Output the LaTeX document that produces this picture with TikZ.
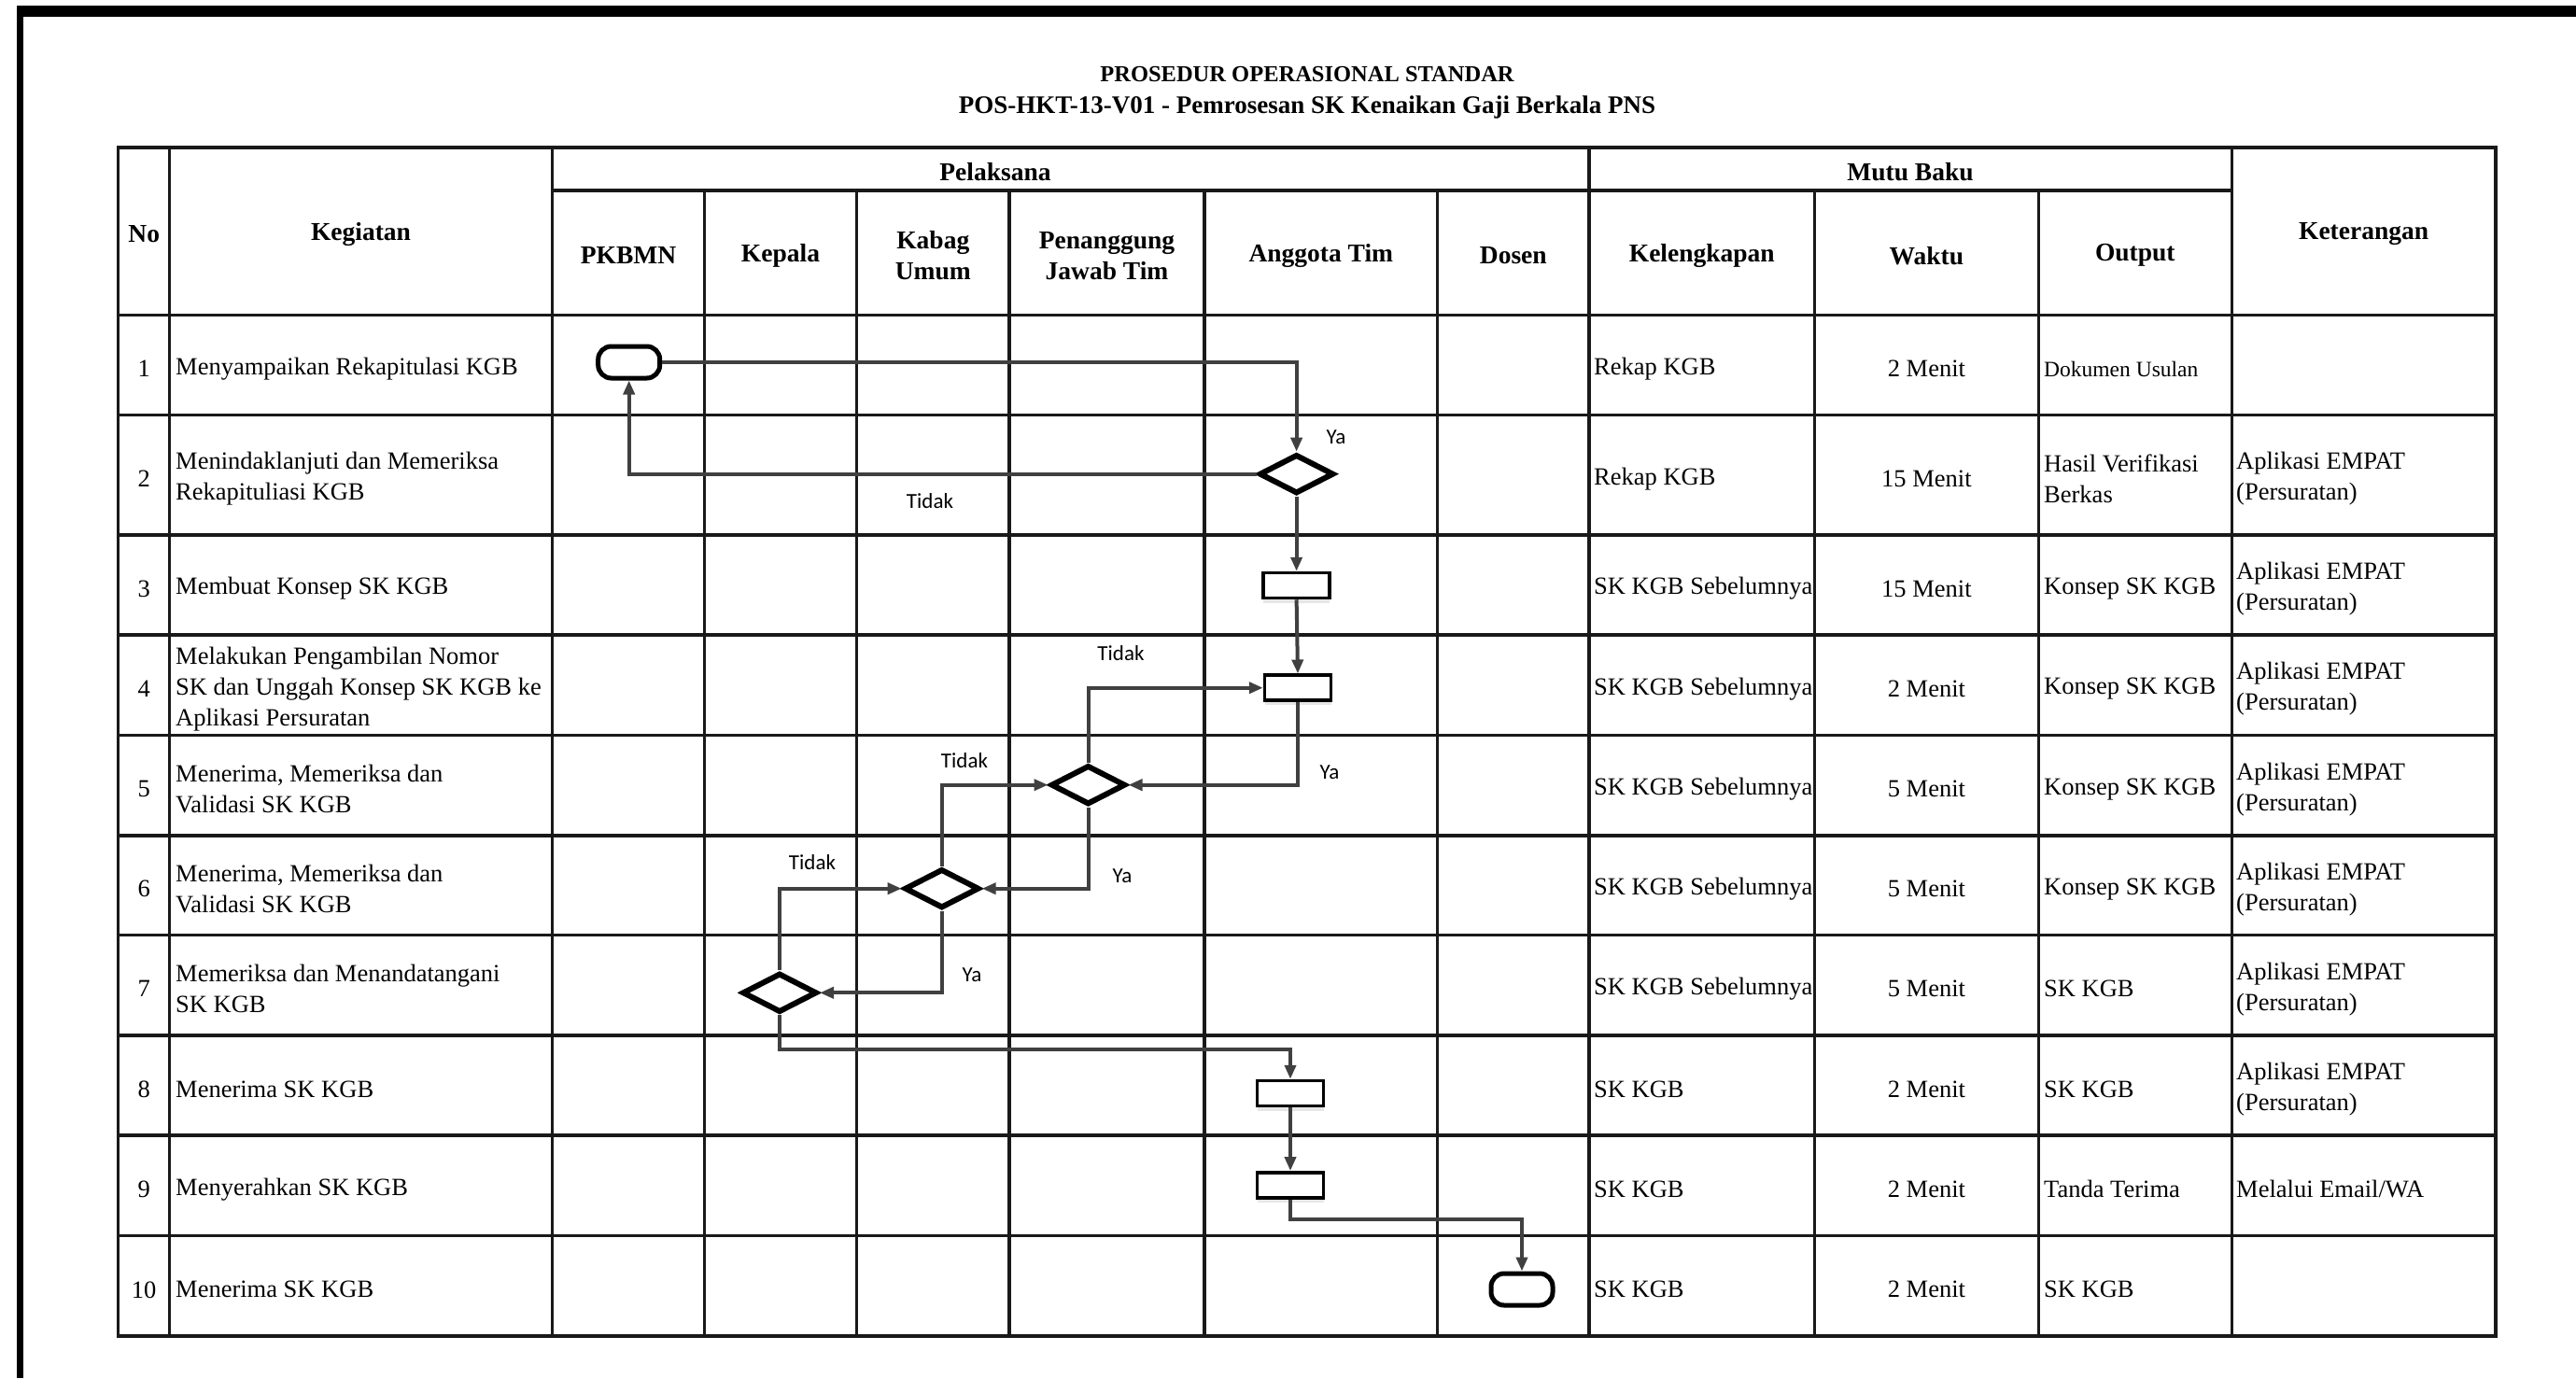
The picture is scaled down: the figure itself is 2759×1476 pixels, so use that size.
\documentclass[tikz,border=0pt]{standalone}
\usepackage{fontspec}
\setmainfont{Liberation Serif}
\newfontfamily\lblfont{Carlito}
\usetikzlibrary{shapes.geometric, arrows.meta, shadows}
\tikzset{
    cell/.style={anchor=west, inner sep=0pt, align=left, yshift=-4pt, font=\fontsize{26.5}{33}\selectfont},
    cellc/.style={anchor=center, inner sep=0pt, align=center, yshift=-4pt, font=\fontsize{26.5}{33}\selectfont},
    head/.style={anchor=center, inner sep=0pt, align=center, yshift=-3pt, font=\fontsize{27.5}{33}\selectfont\bfseries},
    tabline/.style={line width=3.2pt, black!90, line cap=rect},
    terminal/.style={rectangle, rounded corners=14pt, draw=black, fill=white, line width=5pt, minimum width=66pt, minimum height=34pt, inner sep=0pt},
    process/.style={rectangle, draw=black, fill=white, line width=3.5pt, minimum width=71pt, minimum height=27pt, inner sep=0pt, drop shadow={shadow xshift=0pt, shadow yshift=-5pt, opacity=0.2}},
    decision/.style={diamond, draw=black, fill=white, line width=6pt, minimum width=80pt, minimum height=42pt, inner sep=0pt},
    flow/.style={line width=4pt, draw=black!75, -{Triangle[length=15pt, width=12pt]}},
    lbl/.style={font=\lblfont\fontsize{23}{26}\selectfont, inner sep=0pt}
}

\begin{document}
\begin{tikzpicture}[x=1pt, y=-1pt]
        \useasboundingbox (0,0) rectangle (2759,1476);
        % Frame
        \fill[black] (18,6) rectangle (2759,18);
        \fill[black] (18,6) rectangle (25,1476);

        % Title
        \node (judul1) [font=\fontsize{24.5}{28}\selectfont\bfseries] at (1400,80) {PROSEDUR OPERASIONAL STANDAR};
        \node (judul2) [font=\fontsize{27}{30}\selectfont\bfseries] at (1400,115) {POS-HKT-13-V01 - Pemrosesan SK Kenaikan Gaji Berkala PNS};

        % Table rules
        \draw[tabline] (126.8,158) -- (2673,158);
        \draw[tabline] (591.5,204) -- (2390.3,204);
        \draw[tabline] (126.8,337.5) -- (2673,337.5);
        \draw[tabline] (126.8,444.5) -- (2673,444.5);
        \draw[tabline] (126.8,573) -- (2673,573);
        \draw[tabline] (126.8,680) -- (2673,680);
        \draw[tabline] (126.8,787.5) -- (2673,787.5);
        \draw[tabline] (126.8,895) -- (2673,895);
        \draw[tabline] (126.8,1001.5) -- (2673,1001.5);
        \draw[tabline] (126.8,1109) -- (2673,1109);
        \draw[tabline] (126.8,1216) -- (2673,1216);
        \draw[tabline] (126.8,1323.5) -- (2673,1323.5);
        \draw[tabline] (126.8,1431) -- (2673,1431);
        \draw[tabline] (126.8,158) -- (126.8,1431);
        \draw[tabline] (181.5,158) -- (181.5,1431);
        \draw[tabline] (591.5,158) -- (591.5,1431);
        \draw[tabline] (754.5,204) -- (754.5,1431);
        \draw[tabline] (917.5,204) -- (917.5,1431);
        \draw[tabline] (1081,204) -- (1081,1431);
        \draw[tabline] (1290,204) -- (1290,1431);
        \draw[tabline] (1539.5,204) -- (1539.5,1431);
        \draw[tabline] (1702,158) -- (1702,1431);
        \draw[tabline] (1943.5,204) -- (1943.5,1431);
        \draw[tabline] (2183.3,204) -- (2183.3,1431);
        \draw[tabline] (2390.3,158) -- (2390.3,1431);
        \draw[tabline] (2673,158) -- (2673,1431);

        % Header
        \node (hno) [head] at (154.2,247.8) {No};
        \node (hkeg) [head] at (386.5,247.8) {Kegiatan};
        \node (hpel) [head] at (1066,181) {Pelaksana};
        \node (hmutu) [head] at (2046,181) {Mutu Baku};
        \node (hket) [head] at (2531.6,247.8) {Keterangan};
        \node (hpkbmn) [head] at (673,270.8) {PKBMN};
        \node (hkepala) [head] at (836,270.8) {Kepala};
        \node (hkabag) [head] at (999.3,270.8) {Kabag\\Umum};
        \node (hpj) [head] at (1185.5,270.8) {Penanggung\\Jawab Tim};
        \node (hagt) [head] at (1414.8,270.8) {Anggota Tim};
        \node (hdosen) [head] at (1620.8,270.8) {Dosen};
        \node (hkel) [head] at (1822.8,270.8) {Kelengkapan};
        \node (hwkt) [head] at (2063.4,270.8) {Waktu};
        \node (hout) [head] at (2286.8,270.8) {Output};

        % Row 1
        \node (no1) [cellc] at (154.2,391) {1};
        \node (keg1) [cell] at (188,391) {Menyampaikan Rekapitulasi KGB};
        \node (kel1) [cell] at (1707,391) {Rekap KGB};
        \node (wkt1) [cellc] at (2063.4,391) {2 Menit};
        \node (out1) [cell, font=\fontsize{23.5}{28}\selectfont] at (2189,391) {Dokumen Usulan};

        % Row 2
        \node (no2) [cellc] at (154.2,508.8) {2};
        \node (keg2) [cell] at (188,508.8) {Menindaklanjuti dan Memeriksa\\Rekapituliasi KGB};
        \node (kel2) [cell] at (1707,508.8) {Rekap KGB};
        \node (wkt2) [cellc] at (2063.4,508.8) {15 Menit};
        \node (out2) [cell] at (2189,508.8) {Hasil Verifikasi\\Berkas};
        \node (ket2) [cell] at (2395,508.8) {Aplikasi EMPAT\\(Persuratan)};

        % Row 3
        \node (no3) [cellc] at (154.2,626.5) {3};
        \node (keg3) [cell] at (188,626.5) {Membuat Konsep SK KGB};
        \node (kel3) [cell] at (1707,626.5) {SK KGB Sebelumnya};
        \node (wkt3) [cellc] at (2063.4,626.5) {15 Menit};
        \node (out3) [cell] at (2189,626.5) {Konsep SK KGB};
        \node (ket3) [cell] at (2395,626.5) {Aplikasi EMPAT\\(Persuratan)};

        % Row 4
        \node (no4) [cellc] at (154.2,733.8) {4};
        \node (keg4) [cell] at (188,733.8) {Melakukan Pengambilan Nomor\\SK dan Unggah Konsep SK KGB ke\\Aplikasi Persuratan};
        \node (kel4) [cell] at (1707,733.8) {SK KGB Sebelumnya};
        \node (wkt4) [cellc] at (2063.4,733.8) {2 Menit};
        \node (out4) [cell] at (2189,733.8) {Konsep SK KGB};
        \node (ket4) [cell] at (2395,733.8) {Aplikasi EMPAT\\(Persuratan)};

        % Row 5
        \node (no5) [cellc] at (154.2,841.3) {5};
        \node (keg5) [cell] at (188,841.3) {Menerima, Memeriksa dan\\Validasi SK KGB};
        \node (kel5) [cell] at (1707,841.3) {SK KGB Sebelumnya};
        \node (wkt5) [cellc] at (2063.4,841.3) {5 Menit};
        \node (out5) [cell] at (2189,841.3) {Konsep SK KGB};
        \node (ket5) [cell] at (2395,841.3) {Aplikasi EMPAT\\(Persuratan)};

        % Row 6
        \node (no6) [cellc] at (154.2,948.3) {6};
        \node (keg6) [cell] at (188,948.3) {Menerima, Memeriksa dan\\Validasi SK KGB};
        \node (kel6) [cell] at (1707,948.3) {SK KGB Sebelumnya};
        \node (wkt6) [cellc] at (2063.4,948.3) {5 Menit};
        \node (out6) [cell] at (2189,948.3) {Konsep SK KGB};
        \node (ket6) [cell] at (2395,948.3) {Aplikasi EMPAT\\(Persuratan)};

        % Row 7
        \node (no7) [cellc] at (154.2,1055.3) {7};
        \node (keg7) [cell] at (188,1055.3) {Memeriksa dan Menandatangani\\SK KGB};
        \node (kel7) [cell] at (1707,1055.3) {SK KGB Sebelumnya};
        \node (wkt7) [cellc] at (2063.4,1055.3) {5 Menit};
        \node (out7) [cell] at (2189,1055.3) {SK KGB};
        \node (ket7) [cell] at (2395,1055.3) {Aplikasi EMPAT\\(Persuratan)};

        % Row 8
        \node (no8) [cellc] at (154.2,1162.5) {8};
        \node (keg8) [cell] at (188,1162.5) {Menerima SK KGB};
        \node (kel8) [cell] at (1707,1162.5) {SK KGB};
        \node (wkt8) [cellc] at (2063.4,1162.5) {2 Menit};
        \node (out8) [cell] at (2189,1162.5) {SK KGB};
        \node (ket8) [cell] at (2395,1162.5) {Aplikasi EMPAT\\(Persuratan)};

        % Row 9
        \node (no9) [cellc] at (154.2,1269.8) {9};
        \node (keg9) [cell] at (188,1269.8) {Menyerahkan SK KGB};
        \node (kel9) [cell] at (1707,1269.8) {SK KGB};
        \node (wkt9) [cellc] at (2063.4,1269.8) {2 Menit};
        \node (out9) [cell] at (2189,1269.8) {Tanda Terima};
        \node (ket9) [cell] at (2395,1269.8) {Melalui Email/WA};

        % Row 10
        \node (no10) [cellc] at (154.2,1377.3) {10};
        \node (keg10) [cell] at (188,1377.3) {Menerima SK KGB};
        \node (kel10) [cell] at (1707,1377.3) {SK KGB};
        \node (wkt10) [cellc] at (2063.4,1377.3) {2 Menit};
        \node (out10) [cell] at (2189,1377.3) {SK KGB};

        % Flow shapes
        \node (t1) [terminal] at (673.7,388) {};
        \node (d2) [decision] at (1388.6,507.7) {};
        \node (p3) [process] at (1388.6,627) {};
        \node (p4) [process] at (1390,736.7) {};
        \node (d5) [decision] at (1165.5,840.7) {};
        \node (d6) [decision] at (1008.7,951.7) {};
        \node (d7) [decision] at (835,1063.3) {};
        \node (p8) [process] at (1382,1171) {};
        \node (p9) [process] at (1382,1269.3) {};
        \node (t10) [terminal] at (1630,1381) {};

        % Connections
        \draw[flow] (t1.east) -| (d2.north);
        \draw[flow] (d2.west) -| (t1.south);
        \draw[flow] (d2.south) -- (p3.north);
        \draw[flow] (p3.south) -- (p4.north);
        \draw[flow] (p4.south) |- (d5.east);
        \draw[flow] (d5.north) |- (p4.west);
        \draw[flow] (d5.south) |- (d6.east);
        \draw[flow] (d6.north) |- (d5.west);
        \draw[flow] (d6.south) |- (d7.east);
        \draw[flow] (d7.north) |- (d6.west);
        \draw[flow] (d7.south) -- ++(0,36.5) -| (p8.north);
        \draw[flow] (p8.south) -- (p9.north);
        \draw[flow] (p9.south) -- ++(0,21.5) -| (t10.north);

        % Decision labels
        \node (ya2) [lbl] at (1431,468) {Ya};
        \node (tidak2) [lbl] at (996,536.7) {Tidak};
        \node (tidak4) [lbl] at (1200.5,700) {Tidak};
        \node (ya5) [lbl] at (1424,826.7) {Ya};
        \node (tidak5) [lbl] at (1033,815) {Tidak};
        \node (ya6) [lbl] at (1202,938.3) {Ya};
        \node (tidak6) [lbl] at (870,924) {Tidak};
        \node (ya7) [lbl] at (1041,1044.3) {Ya};
\end{tikzpicture}
\end{document}
